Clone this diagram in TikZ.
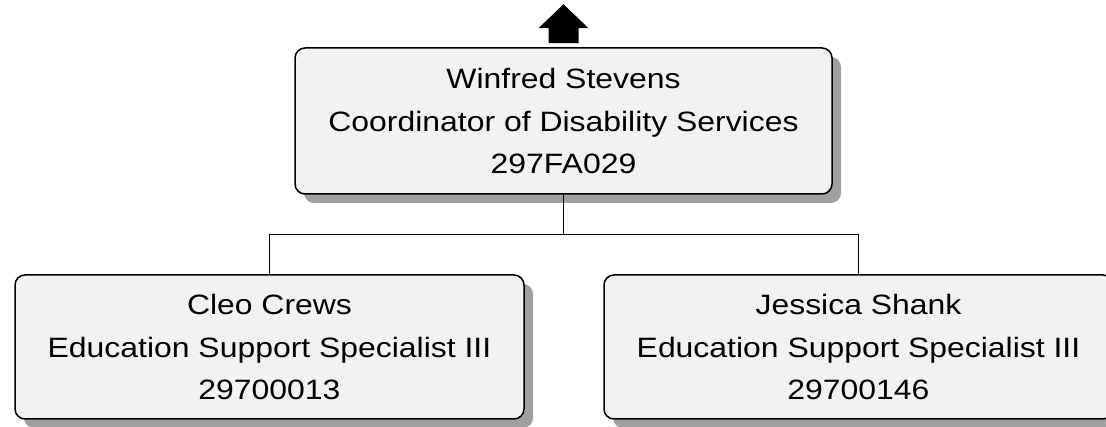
\documentclass[tikz,border=0pt]{standalone}
\usepackage{fontspec}
\setmainfont{Liberation Sans}[FakeStretch=1.14]
\usetikzlibrary{shadows,calc}
\definecolor{boxfill}{HTML}{F2F2F2}
\definecolor{shadowgray}{HTML}{A0A0A0}
\tikzset{
  orgbox/.style={draw=black, line width=1.5pt, fill=boxfill, rounded corners=10pt,
    align=center, inner sep=0pt, font=\fontsize{28}{42.5}\selectfont,
    drop shadow={shadow xshift=9pt, shadow yshift=-9pt, fill=shadowgray, opacity=1}},
  link/.style={draw=black, line width=1.5pt}
}
\begin{document}
\begin{tikzpicture}[x=1pt,y=-1pt]
\useasboundingbox (0,0) rectangle (1106,427);
\clip (0,0) rectangle (1106,427);
\node[orgbox, minimum width=537pt, minimum height=146pt] (top) at (563.5,121)
  {Winfred Stevens\\Coordinator of Disability Services\\297FA029};
\node[orgbox, minimum width=509pt, minimum height=144pt] (left) at (269.5,347)
  {Cleo Crews\\Education Support Specialist III\\29700013};
\node[orgbox, minimum width=509pt, minimum height=144pt] (right) at (858.5,347)
  {Jessica Shank\\Education Support Specialist III\\29700146};
\coordinate (bus) at ($(top.south)+(0,40)$);
\draw[link] (top.south) -- (bus) -| (left.north);
\draw[link] (bus) -| (right.north);
\fill[black] ($(top.north)+(-15,-4)$) -- ++(0,-15) -- ++(-10,0) -- ($(top.north)+(0,-43)$)
  -- ($(top.north)+(25,-19)$) -- ++(-10,0) -- ++(0,15) -- cycle;
\end{tikzpicture}
\end{document}
